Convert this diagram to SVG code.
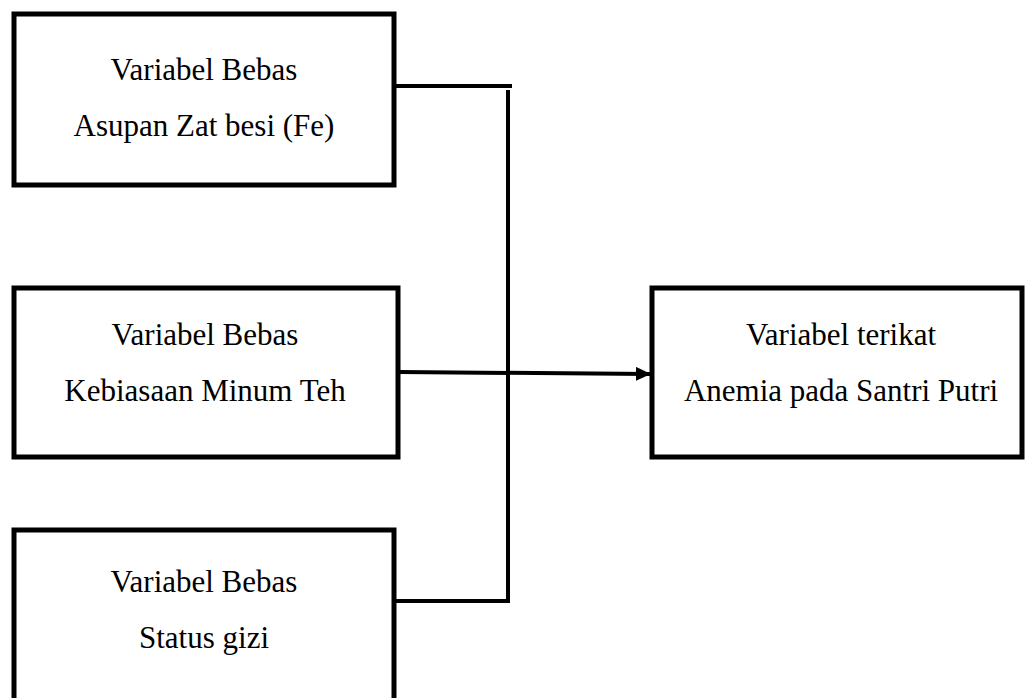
<svg xmlns="http://www.w3.org/2000/svg" width="1036" height="698" viewBox="0 0 1036 698">
<defs>
<style>
.box{fill:#fff;stroke:#000;stroke-width:5}
.c{fill:none;stroke:#000;stroke-width:4}
</style>
<marker id="ah" markerWidth="15" markerHeight="14" refX="14" refY="7" orient="auto" markerUnits="userSpaceOnUse">
<path d="M0,0 L15,7 L0,14 Z" fill="#000"/>
</marker>
</defs>
<rect width="1036" height="698" fill="#fff"/>
<g id="connectors">
<polyline class="c" points="394,86 512,86"/>
<polyline class="c" points="508,90 508,601 394,601"/>
<line class="c" x1="400" y1="372" x2="650" y2="374" marker-end="url(#ah)"/>
</g>
<g font-family="Liberation Serif, serif" font-size="31" fill="#000" text-anchor="middle">
<g id="n1">
<rect class="box" x="14" y="14" width="380" height="171"/>
<text x="204" y="80">Variabel Bebas</text>
<text x="204" y="136">Asupan Zat besi (Fe)</text>
</g>
<g id="n2">
<rect class="box" x="14" y="288" width="384" height="169"/>
<text x="205" y="345">Variabel Bebas</text>
<text x="205" y="401">Kebiasaan Minum Teh</text>
</g>
<g id="n3">
<rect class="box" x="14" y="530" width="380" height="180"/>
<text x="204" y="592">Variabel Bebas</text>
<text x="204" y="648">Status gizi</text>
</g>
<g id="n4">
<rect class="box" x="652" y="288" width="370" height="169"/>
<text x="841" y="345">Variabel terikat</text>
<text x="841" y="401">Anemia pada Santri Putri</text>
</g>
</g>
</svg>
